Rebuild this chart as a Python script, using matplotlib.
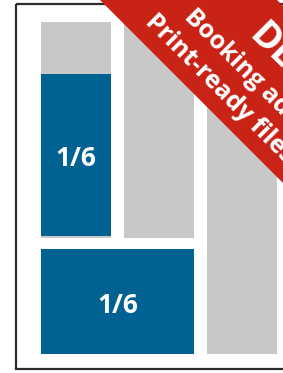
import matplotlib
matplotlib.use("Agg")
import matplotlib.pyplot as plt
from matplotlib.patches import Rectangle, Polygon

# page layout blocks (left, top, width, height) in pixels of the 283x373 picture
gray_blocks = [(41, 22, 70, 216), (124, 22, 70, 216), (207, 22, 70, 332)]
ad_blocks = [(41, 74, 70, 162), (41, 249, 153, 105)]
ad_labels = ["1/6", "1/6"]

ribbon_lines = ["DE", "Booking ads", "Print-ready files."]
ribbon_sizes = [27, 18, 18]
ribbon_starts = [(255, 30), (188, 13), (149, 18)]

BLUE = "#006193"
GRAY = "#c8c8c8"
RED = "#c92316"

fig = plt.figure(figsize=(2.83, 3.73), dpi=100)
ax = fig.add_axes([0, 0, 1, 1])
ax.set_xlim(0, 283)
ax.set_ylim(373, 0)
ax.axis("off")

# page frame
ax.add_patch(Rectangle((16, 4), 280, 365, fill=False, edgecolor="#2b2b2b", linewidth=1.6))

for x, y, w, h in gray_blocks:
    ax.add_patch(Rectangle((x, y), w, h, facecolor=GRAY, edgecolor="none"))

for (x, y, w, h), lab in zip(ad_blocks, ad_labels):
    ax.add_patch(Rectangle((x, y), w, h, facecolor=BLUE, edgecolor="none"))
    ax.text(x + w / 2, y + h / 2 + 4, lab, color="white", fontsize=19,
            fontweight="bold", family="Open Sans", ha="center", va="center")

# corner ribbon
ax.add_patch(Polygon([(100, 0), (277, 0), (700, 423), (700, 600)],
                     closed=True, facecolor=RED, edgecolor="none"))
for txt, fs, (tx, ty) in zip(ribbon_lines, ribbon_sizes, ribbon_starts):
    ax.text(tx, ty, txt, color="white", fontsize=fs, fontweight="bold",
            family="Open Sans", rotation=-45, rotation_mode="anchor",
            ha="left", va="center")

fig.savefig("out.png", dpi=100)
